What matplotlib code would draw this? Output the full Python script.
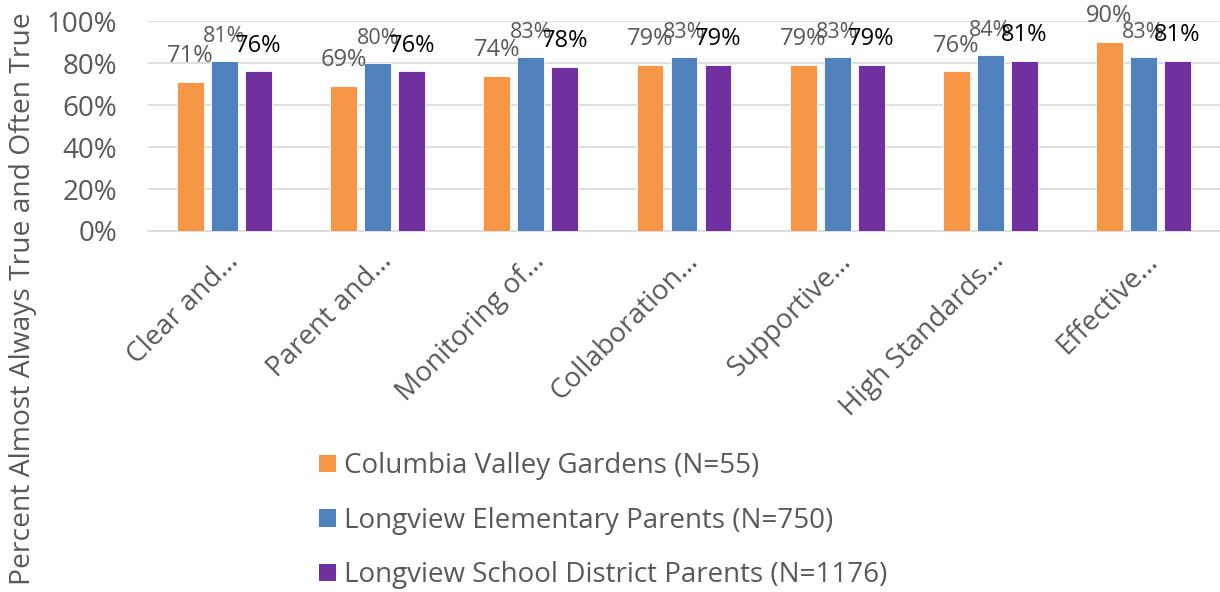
import numpy as np
import matplotlib
matplotlib.use("Agg")
import matplotlib.pyplot as plt
from matplotlib.patches import Patch

plt.rcParams["font.family"] = ["Open Sans", "DejaVu Sans"]

# ── data ──────────────────────────────────────────────
categories = ["Clear and…", "Parent and…", "Monitoring of…", "Collaboration…",
              "Supportive…", "High Standards…", "Effective…"]
series_names = ["Columbia Valley Gardens (N=55)",
                "Longview Elementary Parents (N=750)",
                "Longview School District Parents (N=1176)"]
cvg      = [71, 69, 74, 79, 79, 76, 90]
elem     = [81, 80, 83, 83, 83, 84, 83]
district = [76, 76, 78, 79, 79, 81, 81]

colors = ["#F79646", "#4F81BD", "#7030A0"]
label_colors = ["#595959", "#595959", "#000000"]
label_sizes = [17, 15.5, 17]
GRAY = "#595959"

fig = plt.figure(figsize=(12.2, 5.92), dpi=100)
ax = fig.add_axes([0.1213, 0.6098, 0.8787, 0.3547])

x = np.arange(len(categories))
width = 0.176
step = 0.222
for i, vals in enumerate([cvg, elem, district]):
    xs = x + (i - 1) * step
    ax.bar(xs, np.array(vals) / 100, width, color=colors[i],
           edgecolor="white", linewidth=0.6, zorder=3)
    for xx, v in zip(xs, vals):
        ax.annotate(f"{v}%", xy=(xx, v / 100), xytext=(0, 10),
                    textcoords="offset points", ha="center", va="bottom",
                    fontsize=label_sizes[i], color=label_colors[i], zorder=4)

ax.set_xlim(-0.5, len(categories) - 0.5)
ax.set_ylim(0, 1)
ticks = np.arange(0, 1.01, 0.2)
ax.set_yticks(ticks)
ax.set_yticklabels([f"{int(round(t*100))}%" for t in ticks], fontsize=20, color=GRAY)
ax.set_xticks(x)
ax.set_xticklabels(categories, rotation=45, ha="right", rotation_mode="anchor",
                   fontsize=20, color=GRAY)
ax.tick_params(axis="y", length=0, pad=22)
ax.tick_params(axis="x", length=0, pad=12)
ax.grid(axis="y", color="#D9D9D9", linewidth=1.2, zorder=0)
for s in ["top", "right", "left"]:
    ax.spines[s].set_visible(False)
ax.spines["bottom"].set_color("#D9D9D9")
ax.spines["bottom"].set_linewidth(1.2)

fig.text(0.019, 0.495, "Percent Almost Always True and Often True", rotation=90,
         ha="center", va="center", fontsize=20.3, color=GRAY)

handles = [Patch(facecolor=c) for c in colors]
fig.legend(handles, series_names, loc="upper left", bbox_to_anchor=(0.241, 0.278),
           frameon=False, fontsize=20, labelcolor=GRAY, handlelength=0.6,
           handleheight=0.6, handletextpad=0.3, labelspacing=0.95)

fig.savefig("out.png", dpi=100)
